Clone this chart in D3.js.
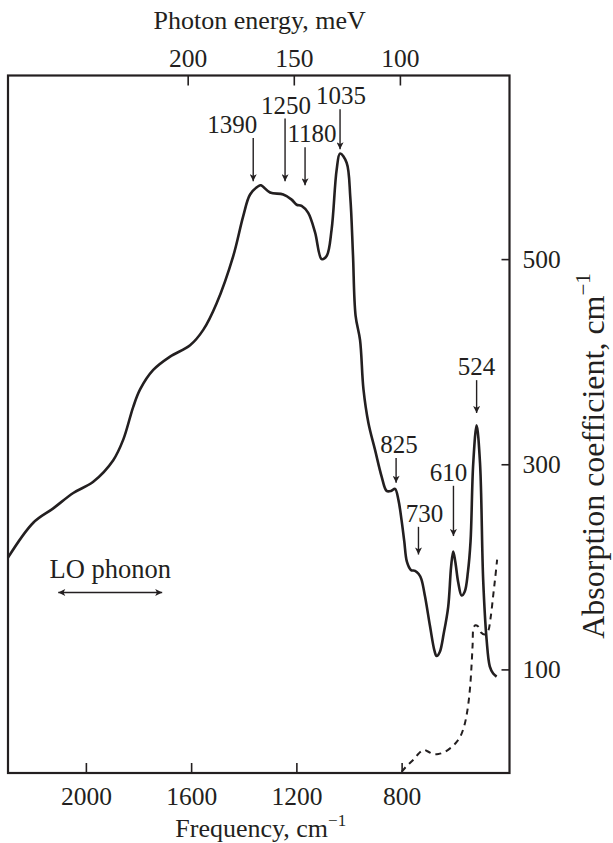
<!DOCTYPE html>
<html>
<head>
<meta charset="utf-8">
<script src="https://cdn.jsdelivr.net/npm/d3@7"></script>
<style>
  body { margin: 0; background: #fff; }
  text { font-family: "Liberation Serif", "Times New Roman", serif; fill: #231f20; }
</style>
</head>
<body>
<div class="container"></div>
<script>
// solid curve (frequency cm-1, absorption cm-1)
var freq = [2296, 2200, 2124, 2048, 1972, 1896, 1858, 1820, 1794, 1744, 1680, 1604, 1554, 1503, 1440,
  1402, 1376, 1345, 1335, 1300, 1250, 1218, 1199, 1180, 1155, 1129, 1104, 1085, 1066, 1047, 1034,
  1009, 995, 985, 975, 958, 945, 926, 901, 876, 857, 840, 825, 812, 800, 790, 780, 765, 749, 735,
  725, 711, 692, 675, 667, 655, 640, 623, 612, 604, 596, 585, 572, 560, 548, 538, 528, 515, 502,
  490, 477, 465, 452, 439];
var absorption = [209, 243, 257, 272, 283, 304, 324, 356, 373, 392, 405, 416, 431, 457, 503,
  542, 563, 571, 572, 565, 563, 558, 553, 552, 545, 526, 500, 503, 529, 587, 603,
  594, 560, 505, 445, 421, 373, 340, 314, 288, 274, 274, 276, 265, 245, 225, 205, 197, 196, 193,
  188, 171, 142, 118, 113, 117, 135, 161, 200, 215, 205, 185, 172, 176, 195, 225, 300, 338, 301,
  187, 129, 103, 96, 93];

// dashed curve
var refFreq = [800, 780, 755, 735, 717, 700, 680, 660, 640, 616, 595, 578, 562, 550, 540, 534, 530,
  527, 520, 510, 498, 485, 472, 462, 452, 444, 437];
var refAbs = [0, 6, 12, 18, 21.5, 20, 17.5, 17.5, 19, 23, 28, 34, 45, 60, 82, 105, 125,
  140, 143, 142, 136, 134, 137, 150, 172, 190, 207];

var bottomTicks = [2000, 1600, 1200, 800];
var topTicks = [200, 150, 100];
var rightTicks = [100, 300, 500];

// peak markers
var peakLabels = ["1390", "1250", "1180", "1035", "825", "730", "610", "524"];
var peakFreq = [1364, 1243, 1167, 1034, 821, 736, 603, 515];
var peakTop = [618, 637, 609, 646, 306, 239, 279, 382];
var peakTip = [576, 576, 572, 607, 282, 212, 230, 350];
var labelShift = [-21, 1, 7, 1, 3, 6, -5, 0];

var loPhonon = [2105, 1710];
var loLevel = 175;

const WIDTH = 613;
const HEIGHT = 843;
const LEFT = 8, RIGHT = 509.5, TOP = 75.5, BOTTOM = 773;
const MEV = 8.0655; // cm-1 per meV
const INK = '#231f20';

var x = d3.scaleLinear().domain([2296, 390]).range([LEFT, RIGHT]);
var y = d3.scaleLinear().domain([-1, 679]).range([BOTTOM, TOP]);

var svg = d3.select('.container').append('svg')
    .attr('width', WIDTH)
    .attr('height', HEIGHT)
    .style('display', 'block');

svg.append('rect').attr('width', WIDTH).attr('height', HEIGHT).attr('fill', '#fff');

var defs = svg.append('defs');
defs.append('marker')
    .attr('id', 'head')
    .attr('markerUnits', 'userSpaceOnUse')
    .attr('viewBox', '0 0 10 10')
    .attr('refX', 10).attr('refY', 5)
    .attr('markerWidth', 8).attr('markerHeight', 7)
    .attr('orient', 'auto-start-reverse')
    .append('path')
    .attr('d', 'M0,0 L10,5 L0,10 L2.5,5 z')
    .attr('fill', INK);

var styleAxis = function (g) {
    g.select('.domain').remove();
    g.selectAll('line').attr('stroke', INK).attr('stroke-width', 1.6);
    g.selectAll('text')
        .attr('font-family', '"Liberation Serif", "Times New Roman", serif')
        .attr('font-size', 25.5)
        .attr('fill', INK);
};

svg.append('g')
    .attr('transform', `translate(0, ${BOTTOM})`)
    .call(d3.axisBottom(x).tickValues(bottomTicks).tickSizeInner(-10).tickSizeOuter(0).tickPadding(14).tickFormat(d3.format('d')))
    .call(styleAxis);

var eScale = d3.scaleLinear()
    .domain([x.domain()[0] / MEV, x.domain()[1] / MEV])
    .range(x.range());

svg.append('g')
    .attr('transform', `translate(0, ${TOP})`)
    .call(d3.axisTop(eScale).tickValues(topTicks).tickSizeInner(-10).tickSizeOuter(0).tickPadding(9).tickFormat(d3.format('d')))
    .call(styleAxis);

svg.append('g')
    .attr('transform', `translate(${RIGHT}, 0)`)
    .call(d3.axisRight(y).tickValues(rightTicks).tickSizeInner(-8).tickSizeOuter(0).tickPadding(13).tickFormat(d3.format('d')))
    .call(styleAxis);

// frame
svg.append('rect')
    .attr('x', LEFT).attr('y', TOP)
    .attr('width', RIGHT - LEFT).attr('height', BOTTOM - TOP)
    .attr('fill', 'none')
    .attr('stroke', INK)
    .attr('stroke-width', 2.2);

// titles
var title = function (g, label, sup, lift) {
    g.append('tspan').text(label);
    g.append('tspan').text('\u22121').attr('font-size', sup).attr('dy', -lift);
};

svg.append('text')
    .attr('x', (LEFT + RIGHT) / 2 + 1).attr('y', 29)
    .attr('text-anchor', 'middle')
    .attr('font-size', 26)
    .text('Photon energy, meV');

svg.append('text')
    .attr('x', (LEFT + RIGHT) / 2 + 2).attr('y', 837)
    .attr('text-anchor', 'middle')
    .attr('font-size', 26)
    .call(title, 'Frequency, cm', 17, 11);

svg.append('text')
    .attr('transform', 'translate(604, 456) rotate(-90)')
    .attr('text-anchor', 'middle')
    .attr('font-size', 32)
    .call(title, 'Absorption coefficient, cm', 21, 14);

// curves
var solid = freq.map((f, i) => [f, absorption[i]]);
var dashed = refFreq.map((f, i) => [f, refAbs[i]]);

var line = d3.line()
    .x(d => x(d[0]))
    .y(d => y(d[1]))
    .curve(d3.curveCatmullRom.alpha(0.5));

svg.append('path')
    .attr('d', line(solid))
    .attr('fill', 'none')
    .attr('stroke', INK)
    .attr('stroke-width', 2.6)
    .attr('stroke-linejoin', 'round');

svg.append('path')
    .attr('d', line(dashed))
    .attr('fill', 'none')
    .attr('stroke', INK)
    .attr('stroke-width', 2)
    .attr('stroke-dasharray', '6,5');

// peak arrows
var peaks = peakLabels.map((l, i) => ({label: l, f: peakFreq[i], top: peakTop[i], tip: peakTip[i], dx: labelShift[i]}));

var pg = svg.append('g');
pg.selectAll('line')
    .data(peaks)
    .enter().append('line')
    .attr('x1', d => x(d.f)).attr('x2', d => x(d.f))
    .attr('y1', d => y(d.top)).attr('y2', d => y(d.tip))
    .attr('stroke', INK)
    .attr('stroke-width', 1.4)
    .attr('marker-end', 'url(#head)');

pg.selectAll('text')
    .data(peaks)
    .enter().append('text')
    .attr('x', d => x(d.f) + d.dx)
    .attr('y', d => y(d.top) - 5)
    .attr('text-anchor', 'middle')
    .attr('font-size', 25)
    .text(d => d.label);

// LO phonon range
svg.append('line')
    .attr('x1', x(loPhonon[0])).attr('x2', x(loPhonon[1]))
    .attr('y1', y(loLevel)).attr('y2', y(loLevel))
    .attr('stroke', INK)
    .attr('stroke-width', 1.4)
    .attr('marker-start', 'url(#head)')
    .attr('marker-end', 'url(#head)');

svg.append('text')
    .attr('x', (x(loPhonon[0]) + x(loPhonon[1])) / 2)
    .attr('y', y(loLevel) - 14)
    .attr('text-anchor', 'middle')
    .attr('font-size', 26.5)
    .text('LO phonon');
</script>
</body>
</html>
